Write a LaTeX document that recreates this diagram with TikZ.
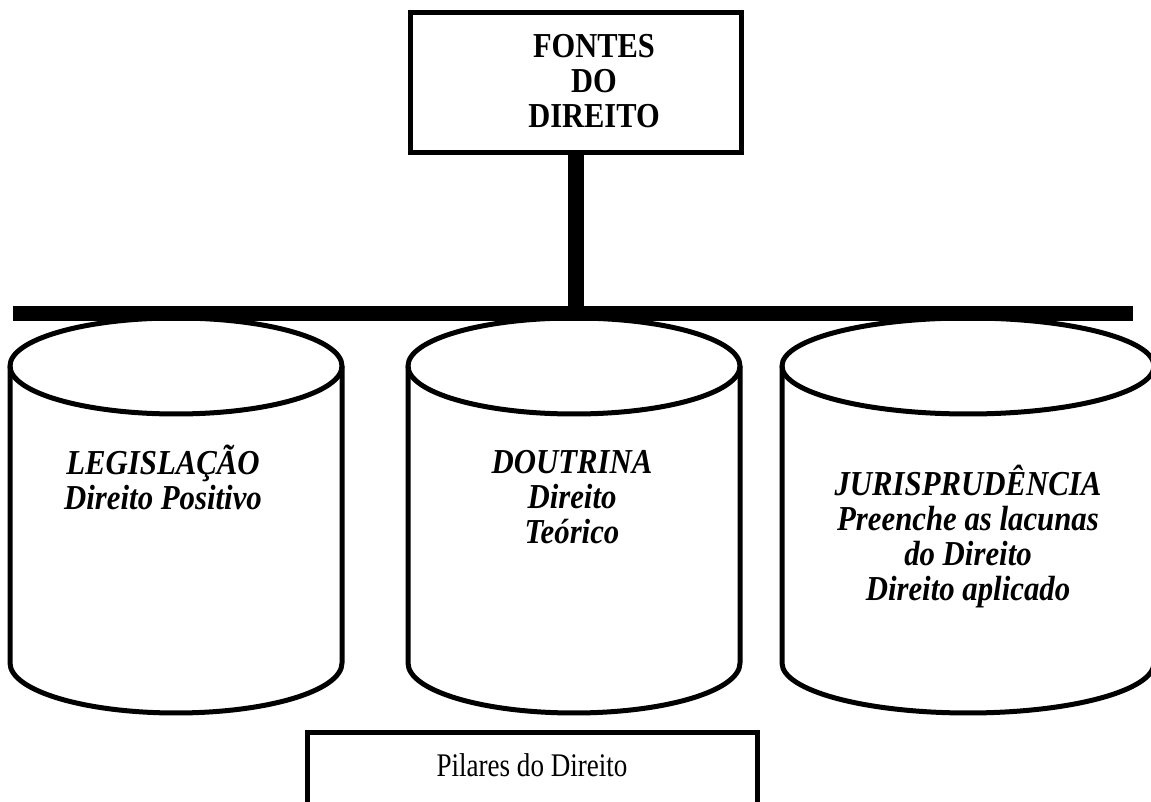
\documentclass[tikz,border=0pt]{standalone}
\usepackage{fontspec}
\setmainfont{Liberation Serif}
\newcommand{\mysq}[2]{\scalebox{#1}[1]{\begin{tabular}{@{}c@{}}#2\end{tabular}}}
\begin{document}
\begin{tikzpicture}[x=1pt,y=1pt,
  outl/.style={line width=5pt, line join=round},
  frame/.style={draw, line width=5pt, inner sep=0pt},
  pillar/.style={font=\fontsize{35}{35}\selectfont\bfseries\itshape, inner sep=0pt},
  title/.style={font=\fontsize{35}{35}\selectfont\bfseries, inner sep=0pt},
  plain/.style={font=\fontsize{33}{36}\selectfont, inner sep=0pt}]
\useasboundingbox (0,0) rectangle (1151,802);
% cylinders
\foreach \cx/\rx in {176/166, 574/166, 968/186}{
  \draw[outl] (\cx-\rx,436) -- (\cx-\rx,139)
     arc[start angle=180, end angle=360, x radius=\rx, y radius=50]
     -- (\cx+\rx,436);
  \draw[outl] (\cx,436) ellipse [x radius=\rx, y radius=48];
}
\node[pillar] (leg) at (163,320) {\mysq{0.88}{LEGISLAÇÃO\\Direito Positivo}};
\node[pillar] (dou) at (572,300) {\mysq{0.88}{DOUTRINA\\Direito\\Teórico}};
\node[pillar] (jur) at (968,264) {\mysq{0.88}{JURISPRUDÊNCIA\\Preenche as lacunas\\do Direito\\Direito aplicado}};
% top box
\node[frame, minimum width=331pt, minimum height=140pt] (fontes) at (575.5,719) {};
\node[title] (fontestxt) at (594,716) {\mysq{0.87}{FONTES\\DO\\DIREITO}};
% bar
\coordinate (barL) at (13,488);
\coordinate (barR) at (1133,488);
\draw[line width=16pt] (fontes.south) -- (fontes.south |- barL);
\draw[line width=15pt] (barL) -- (barR);
% bottom box
\draw[line width=5pt] (307,-20) rectangle (757,69);
\node[plain, anchor=base] (pil) at (532,25) {\scalebox{0.82}[1]{Pilares do Direito}};
\end{tikzpicture}
\end{document}
